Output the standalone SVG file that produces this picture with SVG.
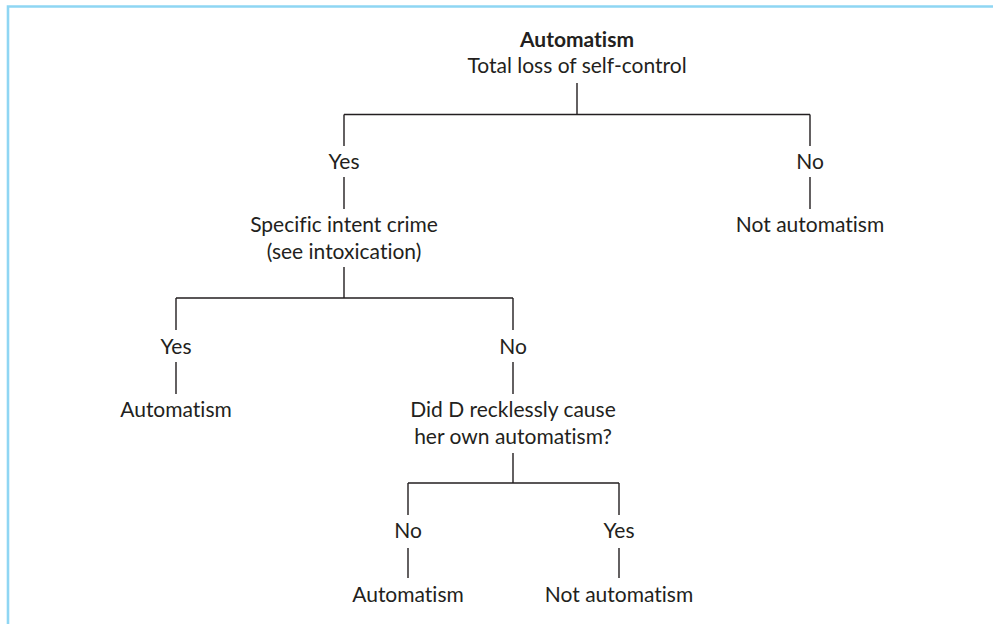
<svg xmlns="http://www.w3.org/2000/svg" width="993" height="624" viewBox="0 0 993 624">
<style>
  .t{font-family:Lato,"Noto Sans","Liberation Sans",sans-serif;font-size:21px;fill:#231f20;text-anchor:middle;font-variant-ligatures:none;font-feature-settings:"liga" 0,"clig" 0,"dlig" 0}
  .b{font-weight:bold}
  .c{stroke:#231f20;stroke-width:1.4;fill:none}
  .frame{stroke:#8fd6f3;stroke-width:2.6;fill:none}
</style>
<rect width="993" height="624" fill="#fff"/>
<path class="frame" d="M8,624 V6.5 H993"/>
<g id="connectors">
  <path class="c" d="M577,83 V114.5 M344,114.5 H810 M344,114.5 V146 M810,114.5 V146"/>
  <path class="c" d="M344,177 V209 M810,177 V209"/>
  <path class="c" d="M344,267 V298 M176,298 H513 M176,298 V330 M513,298 V330"/>
  <path class="c" d="M176,362 V394 M513,362 V394"/>
  <path class="c" d="M513,453 V483 M408,483 H619 M408,483 V515 M619,483 V515"/>
  <path class="c" d="M408,548 V578 M619,548 V578"/>
</g>
<g id="root"><text class="t b" x="577" y="47">Automatism</text><text class="t" x="577" y="73">Total loss of self-control</text></g>
<g id="yes1"><text class="t" x="344" y="169">Yes</text></g>
<g id="no1"><text class="t" x="810" y="169">No</text></g>
<g id="specific"><text class="t" x="344" y="232">Specific intent crime</text><text class="t" x="344" y="259">(see intoxication)</text></g>
<g id="notauto1"><text class="t" x="810" y="232">Not automatism</text></g>
<g id="yes2"><text class="t" x="176" y="354">Yes</text></g>
<g id="no2"><text class="t" x="513" y="354">No</text></g>
<g id="auto1"><text class="t" x="176" y="417">Automatism</text></g>
<g id="reckless"><text class="t" x="513" y="417">Did D recklessly cause</text><text class="t" x="513" y="444">her own automatism?</text></g>
<g id="no3"><text class="t" x="408" y="538">No</text></g>
<g id="yes3"><text class="t" x="619" y="538">Yes</text></g>
<g id="auto2"><text class="t" x="408" y="602">Automatism</text></g>
<g id="notauto2"><text class="t" x="619" y="602">Not automatism</text></g>
</svg>
